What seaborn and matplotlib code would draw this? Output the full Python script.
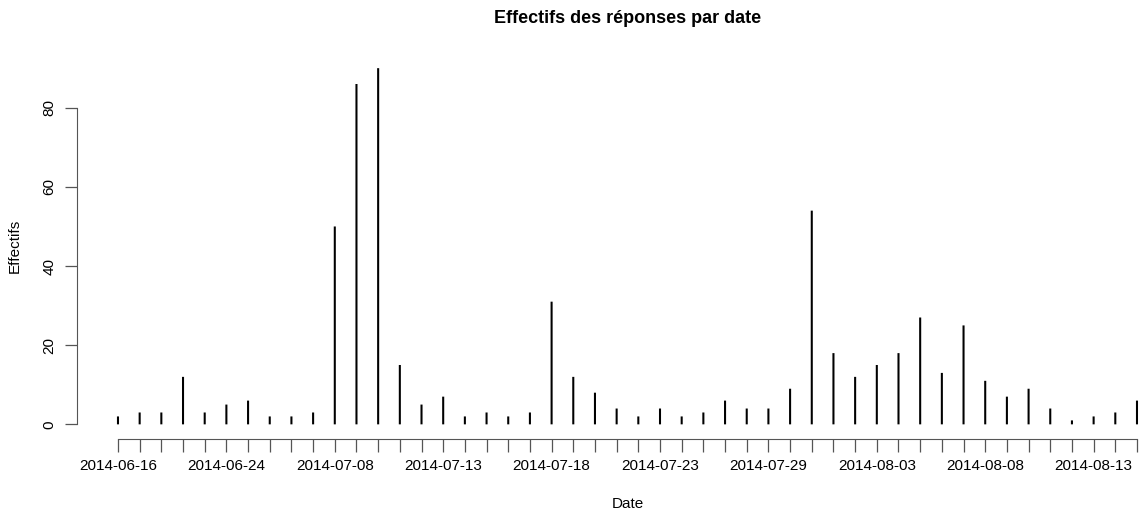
import matplotlib
matplotlib.use("Agg")
import matplotlib.pyplot as plt
import seaborn as sns
import pandas as pd

dates = [
    "2014-06-16", "2014-06-17", "2014-06-18", "2014-06-20", "2014-06-23",
    "2014-06-24", "2014-06-25", "2014-06-27", "2014-07-01", "2014-07-04",
    "2014-07-08", "2014-07-09", "2014-07-10", "2014-07-11", "2014-07-12",
    "2014-07-13", "2014-07-14", "2014-07-15", "2014-07-16", "2014-07-17",
    "2014-07-18", "2014-07-19", "2014-07-20", "2014-07-21", "2014-07-22",
    "2014-07-23", "2014-07-24", "2014-07-25", "2014-07-27", "2014-07-28",
    "2014-07-29", "2014-07-30", "2014-07-31", "2014-08-01", "2014-08-02",
    "2014-08-03", "2014-08-04", "2014-08-05", "2014-08-06", "2014-08-07",
    "2014-08-08", "2014-08-09", "2014-08-10", "2014-08-11", "2014-08-12",
    "2014-08-13", "2014-08-14", "2014-08-15",
]
effectifs = [
    2, 3, 3, 12, 3, 5, 6, 2, 2, 3,
    50, 86, 90, 15, 5, 7, 2, 3, 2, 3,
    31, 12, 8, 4, 2, 4, 2, 3, 6, 4,
    4, 9, 54, 18, 12, 15, 18, 27, 13, 25,
    11, 7, 9, 4, 1, 2, 3, 6,
]
yticks = [0, 20, 40, 60, 80]

df = pd.DataFrame({"date": dates, "n": effectifs})

sns.set_style("white")
plt.rcParams["font.family"] = ["Liberation Sans", "DejaVu Sans"]
plt.rcParams["text.color"] = "black"
plt.rcParams["axes.labelcolor"] = "black"

fig = plt.figure(figsize=(11.44, 5.16), dpi=100)
ax = fig.add_axes([0.0675, 0.150, 0.962, 0.7455])

# thin spikes like R's type="h"
sns.barplot(data=df, x="date", y="n", color="black", width=0.095,
            linewidth=0, saturation=1, snap=False, ax=ax)

n = len(dates)
ax.set_xlim(-0.04 * (n - 1), (n - 1) * 1.04)
ax.set_ylim(-0.04 * max(effectifs), max(effectifs) * 1.04)

ax.set_xticks(range(n))
ax.set_xticklabels([d if i % 5 == 0 else "" for i, d in enumerate(dates)],
                   fontsize=11, color="black")
ax.set_yticks(yticks)
ax.set_yticklabels([str(v) for v in yticks], rotation=90, va="center",
                   fontsize=11, color="black")
ax.tick_params(axis="both", direction="out", length=9, width=0.9,
               color="#555555", pad=6, bottom=True, left=True)

for side in ["top", "right"]:
    ax.spines[side].set_visible(False)
ax.spines["bottom"].set_bounds(0, n - 1)
ax.spines["left"].set_bounds(0, 80)
ax.spines["bottom"].set_color("#555555")
ax.spines["left"].set_color("#555555")

ax.set_xlabel("Date", fontsize=11, labelpad=17)
ax.set_ylabel("Effectifs", fontsize=11, labelpad=15)
ax.set_title("Effectifs des réponses par date", fontsize=13,
             fontweight="bold", pad=22, color="black")

fig.savefig("out.png", dpi=100)
